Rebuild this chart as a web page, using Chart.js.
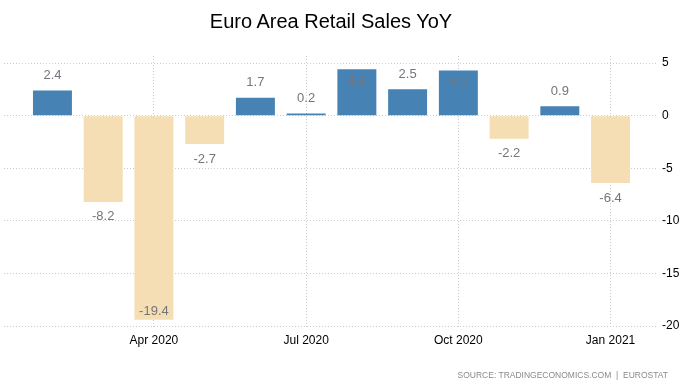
<!DOCTYPE html>
<html>
<head>
<meta charset="utf-8">
<script src="https://cdn.jsdelivr.net/npm/chart.js@4/dist/chart.umd.min.js"></script>
<style>
  body { margin: 0; background: #fff; }
  #wrap { position: relative; width: 696px; height: 389px; }
  #title { position: absolute; left: 0; top: 10px; width: 662px; text-align: center;
    font: 20px "Liberation Sans", Arial, sans-serif; color: #000; }
  #source { position: absolute; right: 28px; top: 370px; white-space: pre;
    font: 8.5px "Liberation Sans", Arial, sans-serif; color: #8a8a8a; }
  canvas { position: absolute; left: 0; top: 0; }
</style>
</head>
<body>
<div id="wrap">
  <canvas id="chart" width="696" height="389"></canvas>
  <div id="title">Euro Area Retail Sales YoY</div>
  <div id="source">SOURCE: TRADINGECONOMICS.COM  |  EUROSTAT</div>
</div>
<script>
const months = ["Feb 2020", "Mar 2020", "Apr 2020", "May 2020", "Jun 2020", "Jul 2020",
  "Aug 2020", "Sep 2020", "Oct 2020", "Nov 2020", "Dec 2020", "Jan 2021"];
const values = [2.4, -8.2, -19.4, -2.7, 1.7, 0.2, 4.4, 2.5, 4.3, -2.2, 0.9, -6.4];
const xTickIdx = [2, 5, 8, 11];
const yTicks = [5, 0, -5, -10, -15, -20];

const UP = "#4682b4", DOWN = "#f5deb3";
const FONT = "'Liberation Sans', Arial, sans-serif";

// value labels above/below each bar, moved inside when they would leave the plot
const valueLabels = {
  id: "valueLabels",
  afterDatasetsDraw(chart) {
    const { ctx, chartArea } = chart;
    const bars = chart.getDatasetMeta(0).data;
    ctx.save();
    ctx.font = "13px " + FONT;
    ctx.fillStyle = "#72767c";
    ctx.textAlign = "center";
    ctx.textBaseline = "middle";
    bars.forEach((bar, i) => {
      const v = values[i];
      let y;
      if (v >= 0) {
        y = bar.y - 15;
        if (y - 7 < chartArea.top) y = bar.y + 12;
      } else {
        y = bar.y + 15;
        if (y + 7 > chartArea.bottom) y = bar.y - 8;
      }
      ctx.fillText(v.toFixed(1), bar.x, y);
    });
    ctx.restore();
  }
};

new Chart(document.getElementById("chart"), {
  type: "bar",
  data: {
    datasets: [{
      data: values.map((v, i) => ({ x: i, y: v })),
      backgroundColor: values.map(v => v >= 0 ? UP : DOWN),
      barPercentage: 0.96,
      categoryPercentage: 0.8
    }]
  },
  options: {
    responsive: false,
    animation: false,
    layout: { padding: { left: 4, top: 56, right: 0, bottom: 33 } },
    plugins: { legend: { display: false }, tooltip: { enabled: false } },
    scales: {
      x: {
        type: "linear",
        offset: false,
        min: -0.955,
        max: 11.935,
        afterBuildTicks: s => { s.ticks = xTickIdx.map(v => ({ value: v })); },
        afterFit: s => { s.height = 30; },
        ticks: {
          callback: v => months[v],
          color: "#000",
          font: { size: 12, family: FONT },
          padding: 4,
          maxRotation: 0
        },
        grid: { offset: false, color: "#cccccc", tickLength: 3, tickColor: "#cccccc", tickBorderDash: [1, 2] },
        border: { display: false, dash: [1, 2] }
      },
      y: {
        position: "right",
        min: -20,
        max: 5.67,
        afterBuildTicks: s => { s.ticks = yTicks.map(v => ({ value: v })); },
        afterFit: s => { s.width = 38; },
        ticks: { color: "#000", font: { size: 12, family: FONT }, padding: 4 },
        grid: { color: "#cccccc", drawTicks: false },
        border: { display: false, dash: [1, 2] }
      }
    }
  },
  plugins: [valueLabels]
});
</script>
</body>
</html>
